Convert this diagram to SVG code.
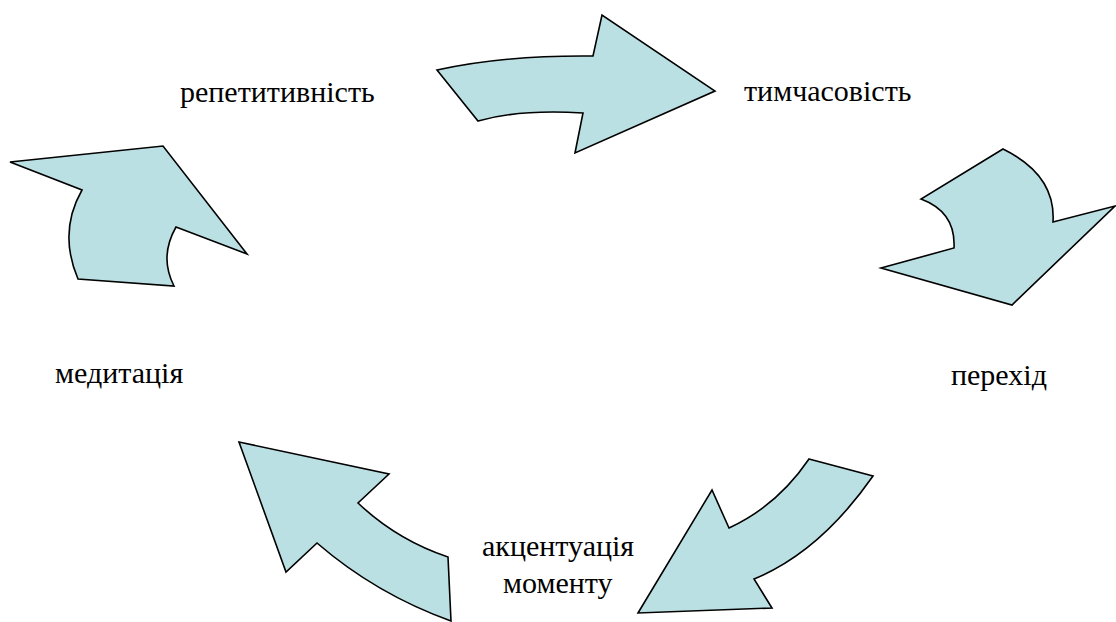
<svg xmlns="http://www.w3.org/2000/svg" width="1116" height="622" viewBox="0 0 1116 622">
<rect width="1116" height="622" fill="#fff"/>
<g id="connectors" fill="#BBE0E3" stroke="#000" stroke-width="1.6" stroke-linejoin="miter">
<path id="arrow1" d="M437,70 Q505,55 593,56 L602,15 L715,91 L575,153 L583,113 Q520,109 478,121 Z"/>
<path id="arrow2" d="M1003,149 Q1056,175 1053,222 L1115,206 L1012,305 L881,268 L954,248 Q956,212 921,199 Z"/>
<path id="arrow3" d="M809,459 L873,476 Q820,552 754,579 L772,608 L638,613 L712,490 L729,528 Q777,506 809,459 Z"/>
<path id="arrow4" d="M239,442 L389,474 L358,503 Q397,540 448,557 L451,621 Q376,594 317,543 L286,572 Z"/>
<path id="arrow5" d="M10,162 L163,146 L247,254 L176,227 Q159,257 174,286 L78,279 Q58,232 82,190 Z"/>
</g>
<g id="node-repetytyvnist"><text x="180" y="102" font-family="'Liberation Serif'" font-size="30">репетитивність</text></g>
<g id="node-tymchasovist"><text x="744" y="101" font-family="'Liberation Serif'" font-size="30">тимчасовість</text></g>
<g id="node-perekhid"><text x="951" y="385" font-family="'Liberation Serif'" font-size="30">перехід</text></g>
<g id="node-aktsentuatsiia"><text x="482" y="556" font-family="'Liberation Serif'" font-size="30">акцентуація</text><text x="503" y="593" font-family="'Liberation Serif'" font-size="30">моменту</text></g>
<g id="node-medytatsiia"><text x="55" y="383" font-family="'Liberation Serif'" font-size="30">медитація</text></g>
</svg>
